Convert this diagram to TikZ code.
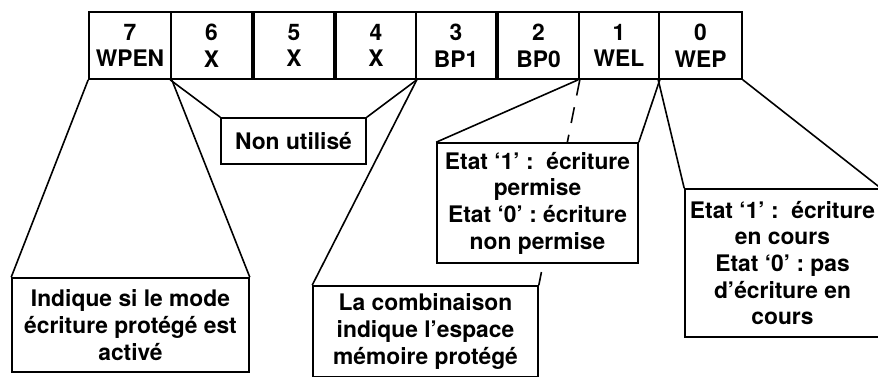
\documentclass[tikz,border=0pt]{standalone}
\usepackage{fontspec}
\setmainfont{TeX Gyre Heros}
\usetikzlibrary{backgrounds}
\begin{document}
\frenchspacing
\begin{tikzpicture}[x=1pt,y=-1pt,
  every node/.style={font=\bfseries\fontsize{22.8}{26.7}\selectfont},
  box/.style={draw=black,line width=1.6pt,fill=white,rectangle,inner sep=0pt,align=center},
  bitbox/.style={box,minimum height=67pt},
  conn/.style={line width=1.6pt,black},
  dconn/.style={conn,dash pattern=on 16pt off 12pt}]
\useasboundingbox (0,0) rectangle (878,376);
% register bits
\node[bitbox,minimum width=82pt] (b7) at (130,45.5) {7\\WPEN};
\node[bitbox,minimum width=81pt] (b6) at (211.5,45.5) {6\\X};
\node[bitbox,minimum width=80pt] (b5) at (294,45.5) {5\\X};
\node[bitbox,minimum width=80pt] (b4) at (376,45.5) {4\\X};
\node[bitbox,minimum width=80pt] (b3) at (456,45.5) {3\\BP1};
\node[bitbox,minimum width=81pt] (b2) at (538.5,45.5) {2\\BP0};
\node[bitbox,minimum width=80pt] (b1) at (619,45.5) {1\\WEL};
\node[bitbox,minimum width=83pt] (b0) at (700.5,45.5) {0\\WEP};
% description boxes
\node[box,minimum width=145pt,minimum height=46pt] (nu) at (293.5,141) {Non utilisé};
\node[box,minimum width=237pt,minimum height=94pt] (ind) at (130.5,325) {Indique si le mode\\écriture protégé est\\activé};
\node[box,minimum width=225pt,minimum height=91pt] (comb) at (425.5,331.5) {La combinaison\\indique l’espace\\mémoire protégé};
\node[box,minimum width=201pt,minimum height=120pt] (wel) at (537.5,203) {Etat ‘1’ :\ \ écriture\\permise\\Etat ‘0’ : écriture\\non permise};
\node[box,minimum width=195pt,minimum height=148pt] (wep) at (782.5,263) {Etat ‘1’ :\ \ écriture\\en cours\\Etat ‘0’ : pas\\d’écriture en\\cours};
% connectors
\begin{pgfonlayer}{background}
\draw[conn] (b7.south west) -- (ind.north west);
\draw[conn] (b7.south east) -- (ind.north east);
\draw[conn] (b6.south west) -- (nu.north west);
\draw[conn] (b4.south east) -- (nu.north east);
\draw[conn] (b4.south east) -- (comb.north west);
\draw[dconn] (b2.south east) -- (comb.north east);
\draw[conn] (b1.south west) -- (wel.north west);
\draw[conn] (b1.south east) -- (wel.north east);
\draw[conn] (b0.south west) -- (wep.north west);
\draw[conn] (b0.south east) -- (wep.north east);
\end{pgfonlayer}
\end{tikzpicture}
\end{document}
